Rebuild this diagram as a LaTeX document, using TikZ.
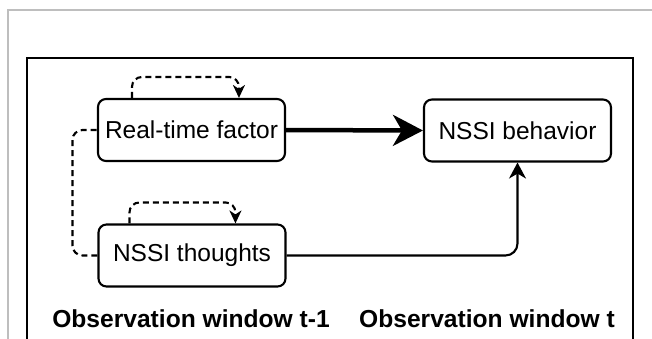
\documentclass[tikz,border=0pt]{standalone}
\usepackage{fontspec}
\setmainfont{Liberation Sans}
\usetikzlibrary{arrows.meta}
\definecolor{framegray}{RGB}{190,190,190}
\tikzset{
  box/.style={draw=black, line width=2.1pt, rounded corners=8pt, minimum width=187pt, minimum height=62pt, inner sep=0pt, font=\fontsize{24.5}{28}\selectfont},
  conn/.style={line width=2.1pt},
  loopconn/.style={line width=2.1pt, dash pattern=on 6pt off 4pt, rounded corners=10pt, -{Stealth[length=13pt,width=12pt,inset=4pt]}},
  lbl/.style={anchor=base, font=\fontsize{24.6}{28}\selectfont\bfseries, inner sep=0pt}
}
\begin{document}
\begin{tikzpicture}[x=1pt,y=-1pt]
\useasboundingbox (0,0) rectangle (652,338);
\fill[white] (0,0) rectangle (652,338);
% outer gray frame
\draw[framegray, line width=1.2pt] (8,345) -- (8,10) -- (660,10);
% black frame
\draw[black, line width=2pt] (27,345) -- (27,58) -- (633,58) -- (633,345);
% nodes
\node[box] (rt) at (191.5,130) {Real-time factor};
\node[box] (bh) at (517.5,130.5) {NSSI behavior};
\node[box] (th) at (192,255.5) {NSSI thoughts};
% thick arrow
\draw[line width=4.5pt, -{Stealth[length=30pt,width=31pt,inset=9pt]}] (rt.east) -- (bh.west);
% thoughts -> behavior
\draw[conn, rounded corners=12pt, -{Stealth[length=16pt,width=17pt,inset=5pt]}] (th.east) -| (bh.south);
% dashed left link
\draw[conn, dash pattern=on 6pt off 4pt, rounded corners=10pt] (th.west) -- ++(-25,0) |- (rt.west);
% self loops
\draw[loopconn] ([xshift=35pt]rt.north west) -- ++(0,-21) -| ([xshift=142pt]rt.north west);
\draw[loopconn] ([xshift=32pt]th.north west) -- ++(0,-21) -| ([xshift=138pt]th.north west);
% labels
\node[lbl] (l1) at (191,327) {Observation window t-1};
\node[lbl] (l2) at (487,327) {Observation window t};
\end{tikzpicture}
\end{document}
